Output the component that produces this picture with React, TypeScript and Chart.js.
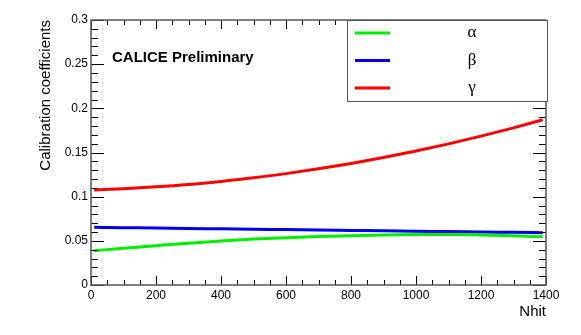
import React, { useEffect, useRef } from "react";
import { Chart, registerables } from "chart.js";
Chart.register(...registerables);

const nhit = [10, 100, 200, 300, 400, 500, 600, 700, 800, 900, 1000, 1100, 1200, 1300, 1390];
const alpha = [0.0389, 0.0415, 0.0445, 0.0474, 0.0499, 0.052, 0.0536, 0.0548, 0.0558, 0.0566, 0.0571, 0.0572, 0.0567, 0.0558, 0.0546];
const beta = [0.0653, 0.0649, 0.0645, 0.064, 0.0636, 0.0631, 0.0627, 0.0622, 0.0618, 0.0614, 0.0609, 0.0605, 0.06, 0.0596, 0.0592];
const gamma = [0.1076, 0.109, 0.1111, 0.1138, 0.1173, 0.1213, 0.1261, 0.1315, 0.1376, 0.1443, 0.1517, 0.1598, 0.1685, 0.1779, 0.187];
const seriesLabels = ["α", "β", "γ"];
const seriesColors = ["#00ee00", "#0000ee", "#ff0000"];
const xTitle = "Nhit";
const yTitle = "Calibration coefficients";
const annotation = "CALICE Preliminary";

const FONT = "'Liberation Sans', Arial, Helvetica, sans-serif";
const SERIF = "'Liberation Serif', 'Times New Roman', serif";

const rootPlugin = {
  id: "rootStyle",
  afterDatasetsDraw(chart: any) {
    const { ctx, chartArea: a, scales } = chart;
    const xs = scales.x;
    const ys = scales.y;
    ctx.save();
    ctx.strokeStyle = "#000";
    ctx.lineWidth = 1;
    ctx.beginPath();
    for (let v = 0; v <= 1400 + 1e-6; v += 50) {
      const px = Math.round(xs.getPixelForValue(v)) + 0.5;
      const len = v % 200 === 0 ? 9 : 5;
      ctx.moveTo(px, a.bottom);
      ctx.lineTo(px, a.bottom - len);
      ctx.moveTo(px, a.top);
      ctx.lineTo(px, a.top + len);
    }
    for (let i = 0; i <= 30; i++) {
      const v = i * 0.01;
      const py = Math.round(ys.getPixelForValue(v)) + 0.5;
      const len = i % 5 === 0 ? 13 : 7;
      ctx.moveTo(a.left, py);
      ctx.lineTo(a.left + len, py);
      ctx.moveTo(a.right, py);
      ctx.lineTo(a.right - len, py);
    }
    ctx.stroke();
    ctx.strokeStyle = "#555";
    ctx.lineWidth = 1.5;
    ctx.strokeRect(a.left, a.top, a.right - a.left, a.bottom - a.top);

    ctx.fillStyle = "#000";
    ctx.font = `bold 15px ${FONT}`;
    ctx.textAlign = "left";
    ctx.textBaseline = "middle";
    ctx.fillText(annotation, a.left + 21, a.top + 38);

    const lx = a.right - 199;
    const ly = a.top;
    const lw = 200;
    const lh = 81;
    ctx.fillStyle = "#fff";
    ctx.fillRect(lx, ly, lw, lh);
    ctx.strokeStyle = "#555";
    ctx.lineWidth = 1;
    ctx.strokeRect(lx + 0.5, ly + 0.5, lw, lh);
    chart.data.datasets.forEach((ds: any, i: number) => {
      const y = ly + 13 + i * 27.5;
      ctx.strokeStyle = ds.borderColor;
      ctx.lineWidth = 3;
      ctx.beginPath();
      ctx.moveTo(lx + 8, y);
      ctx.lineTo(lx + 43, y);
      ctx.stroke();
      ctx.fillStyle = "#000";
      ctx.font = `17px ${SERIF}`;
      ctx.textAlign = "center";
      ctx.textBaseline = "middle";
      ctx.fillText(ds.label, lx + 125, y);
    });
    ctx.restore();
  },
};

export default function App() {
  const ref = useRef<HTMLCanvasElement | null>(null);
  useEffect(() => {
    if (!ref.current) return;
    const chart = new Chart(ref.current, {
      type: "line",
      data: {
        datasets: [alpha, beta, gamma].map((vals, i) => ({
          label: seriesLabels[i],
          data: nhit.map((x, j) => ({ x, y: vals[j] })),
          borderColor: seriesColors[i],
          backgroundColor: seriesColors[i],
          borderWidth: 3,
          pointRadius: 0,
          cubicInterpolationMode: "monotone" as const,
          fill: false,
        })),
      },
      options: {
        responsive: false,
        animation: false,
        events: [],
        layout: { padding: { left: 0, right: 35, top: 20, bottom: 0 } },
        plugins: { legend: { display: false }, tooltip: { enabled: false } },
        scales: {
          x: {
            type: "linear",
            min: 0,
            max: 1400,
            grid: { display: false, drawTicks: false },
            border: { display: false },
            ticks: {
              stepSize: 200,
              padding: 3,
              maxRotation: 0,
              color: "#000",
              font: { family: FONT, size: 12 },
              callback: (v: any) => String(v),
            },
            title: {
              display: true,
              text: xTitle,
              align: "end",
              color: "#000",
              font: { family: FONT, size: 15 },
              padding: { top: 0, bottom: 14 },
            },
            afterFit: (s: any) => {
              s.height = 50;
            },
          },
          y: {
            min: 0,
            max: 0.3,
            grid: { display: false, drawTicks: false },
            border: { display: false },
            ticks: {
              stepSize: 0.05,
              padding: 3,
              color: "#000",
              font: { family: FONT, size: 12 },
              callback: (v: any) => String(+Number(v).toFixed(2)),
            },
            title: {
              display: true,
              text: yTitle,
              align: "end",
              color: "#000",
              font: { family: FONT, size: 15 },
              padding: { top: 37, bottom: 0 },
            },
            afterFit: (s: any) => {
              s.width = 91;
            },
          },
        },
      },
      plugins: [rootPlugin],
    });
    return () => chart.destroy();
  }, []);
  return (
    <div style={{ position: "fixed", left: 0, top: 0, width: 581, height: 335, background: "#fff" }}>
      <canvas ref={ref} width={581} height={335} style={{ display: "block" }} />
    </div>
  );
}
